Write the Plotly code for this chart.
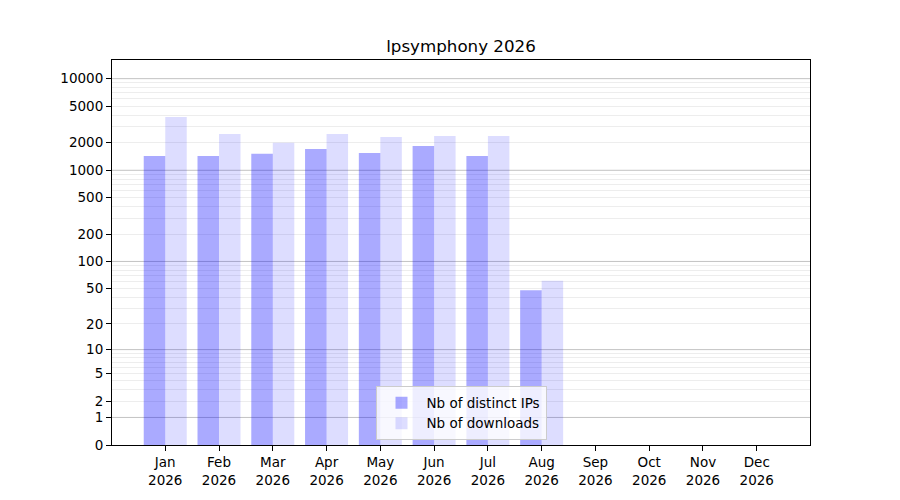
import numpy as np
import plotly.graph_objs as go

# Monthly stats (None = no data yet)
months = ['Jan', 'Feb', 'Mar', 'Apr', 'May', 'Jun', 'Jul', 'Aug', 'Sep', 'Oct', 'Nov', 'Dec']
year = 2026
distinct_ips = [1430, 1430, 1510, 1710, 1545, 1845, 1430, 48, None, None, None, None]
downloads = [3820, 2490, 1990, 2490, 2310, 2370, 2370, 61, None, None, None, None]

tick_values = [0, 1, 2, 5, 10, 20, 50, 100, 200, 500, 1000, 2000, 5000, 10000]
major_grid = [1, 10, 100, 1000, 10000]
minor_grid = [m * d for d in [1, 10, 100, 1000] for m in [3, 4, 6, 7, 8, 9]]


def scale(vals):
    # log10(1 + x) keeps zero on the axis
    return [None if v is None else np.log10(1 + v) for v in vals]


labels = [f'{m}<br>{year}' for m in months]
x_range = [-0.99, 11.99]
y_range = [0, 4.204]

trace1 = go.Bar(x=labels, y=scale(distinct_ips), name='Nb of distinct IPs',
                marker={'color': 'rgba(0,0,255,0.333)', 'line': {'width': 0}})
trace2 = go.Bar(x=labels, y=scale(downloads), name='Nb of downloads',
                marker={'color': 'rgba(0,0,255,0.133)', 'line': {'width': 0}})

font = 'DejaVu Sans, sans-serif'
light_grid = 'rgba(0,0,0,0.07)'

# page body has an 8px margin, so the figure is offset by that
layout = go.Layout(
    width=900, height=500,
    paper_bgcolor='white', plot_bgcolor='rgba(0,0,0,0)',
    margin=dict(l=104, r=98, t=52, b=63),
    title=dict(text=f'lpsymphony {year}', x=453 / 900, xanchor='center',
               y=1 - 38 / 500, yanchor='middle', font=dict(family=font, size=16.7, color='black')),
    font=dict(family=font, size=13.5, color='black'),
    barmode='group', bargap=0.2, bargroupgap=0,
    xaxis=dict(range=x_range, showline=True, mirror=True, linecolor='black', linewidth=1,
               ticks='outside', ticklen=5, tickcolor='black', showgrid=False),
    yaxis=dict(range=y_range, showline=True, mirror=True, linecolor='black', linewidth=1,
               ticks='outside', ticklen=5, tickcolor='black', zeroline=False,
               tickvals=scale(tick_values), ticktext=[str(v) for v in tick_values],
               showgrid=True, gridcolor=light_grid, gridwidth=1,
               minor=dict(tickvals=scale(minor_grid), showgrid=True, gridcolor=light_grid,
                          gridwidth=1, ticks='')),
    legend=dict(x=0.5, xanchor='center', y=0.012, yanchor='bottom', itemwidth=40,
                bgcolor='rgba(255,255,255,0.8)', bordercolor='#cccccc', borderwidth=1,
                font=dict(size=13.5)),
    # darker decade grid lines across the full x range
    shapes=[dict(type='line', xref='x', x0=x_range[0], x1=x_range[1], yref='y', y0=v, y1=v,
                 line=dict(color='rgba(128,128,128,0.35)', width=1), layer='below')
            for v in scale(major_grid)],
)

fig = go.Figure(data=[trace1, trace2], layout=layout)
fig.write_html('out.html')
